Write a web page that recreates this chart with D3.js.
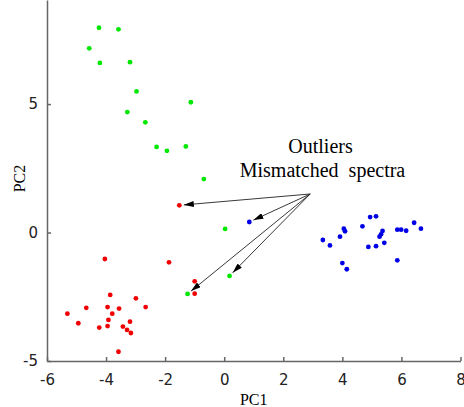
<!DOCTYPE html>
<html>
<head>
<meta charset="utf-8">
<script src="https://cdn.jsdelivr.net/npm/d3@7"></script>
<style>
  body { margin: 0; background: #fff; }
  svg { display: block; }
  .tick text { font-family: "DejaVu Sans", sans-serif; font-size: 15px; fill: #222; }
  .axis path, .axis line { stroke: #666; stroke-width: 1.5; }
</style>
</head>
<body>
<div id="chart"></div>
<script>
// PC scores
var greenPts = [
  [-4.24, 7.97], [-3.58, 7.91], [-4.57, 7.17], [-4.21, 6.60], [-3.19, 6.63],
  [-2.97, 5.49], [-1.13, 5.07], [-3.28, 4.69], [-2.67, 4.29], [-2.29, 3.33],
  [-1.94, 3.18], [-1.30, 3.35], [-0.69, 2.08], [0.03, 0.14], [0.18, -1.69],
  [-1.24, -2.39]
];
var redPts = [
  [-1.52, 1.06], [-4.04, -1.03], [-1.87, -1.16], [-1.00, -1.90], [-1.00, -2.38],
  [-3.86, -2.43], [-2.99, -2.56], [-4.67, -2.93], [-3.95, -2.90], [-3.56, -2.96],
  [-2.66, -2.90], [-5.31, -3.16], [-3.79, -3.16], [-4.94, -3.53], [-3.92, -3.40],
  [-3.19, -3.47], [-4.23, -3.70], [-3.95, -3.64], [-3.43, -3.66], [-3.29, -3.79],
  [-3.16, -3.91], [-3.58, -4.64]
];
var bluePts = [
  [0.85, 0.41], [3.34, -0.29], [3.58, -0.50], [3.92, -0.16], [4.05, 0.15],
  [4.09, 0.05], [4.00, -1.19], [4.15, -1.43], [4.68, 0.24], [4.94, 0.60],
  [5.14, 0.63], [4.88, -0.56], [5.14, -0.53], [5.26, -0.16], [5.31, -0.07],
  [5.36, 0.06], [5.42, -0.40], [5.86, 0.11], [5.99, 0.11], [6.16, 0.07],
  [6.43, 0.38], [6.66, 0.15], [5.86, -1.08]
];
var xTicks = [-6, -4, -2, 0, 2, 4, 6, 8];
var yTicks = [-5, 0, 5];
// annotation: arrow origin and the mismatched samples it points at
var arrowFrom = [2.91, 1.50];
var arrowTargets = [[-1.52, 1.06], [0.85, 0.41], [0.18, -1.69], [-1.24, -2.39]];
var noteLines = ['Outliers', 'Mismatched\u00a0\u00a0spectra'];

var width = 464, height = 407,
  margin = { top: 0, right: 3.5, bottom: 46, left: 47 };

var svg = d3.select('#chart').append('svg')
  .attr('width', width)
  .attr('height', height);

var x = d3.scaleLinear().domain([-6, 8]).range([margin.left, width - margin.right]);
var y = d3.scaleLinear().domain([-5, 9.05]).range([height - margin.bottom, margin.top]);

var fmt = function(d) { return String(d); };

svg.append('g')
  .attr('class', 'axis')
  .attr('transform', 'translate(0,' + y(-5) + ')')
  .call(d3.axisBottom(x).tickValues(xTicks).tickFormat(fmt)
    .tickSizeInner(-4).tickSizeOuter(0).tickPadding(13));

svg.append('g')
  .attr('class', 'axis')
  .attr('transform', 'translate(' + x(-6) + ',0)')
  .call(d3.axisLeft(y).tickValues(yTicks).tickFormat(fmt)
    .tickSizeInner(-4).tickSizeOuter(0).tickPadding(9));

svg.selectAll('.axis .domain').attr('stroke-width', 1.5);

// axis titles
svg.append('text')
  .attr('x', (x(-6) + x(8)) / 2)
  .attr('y', 405)
  .attr('text-anchor', 'middle')
  .style('font-family', '"Liberation Serif", serif')
  .style('font-size', '16px')
  .text('PC1');

svg.append('text')
  .attr('transform', 'translate(25,' + ((y(-5) + 0) / 2 - 2) + ') rotate(-90)')
  .attr('text-anchor', 'middle')
  .style('font-family', '"Liberation Serif", serif')
  .style('font-size', '16px')
  .text('PC2');

// points
function drawPoints(pts, color) {
  svg.append('g').selectAll('circle')
    .data(pts)
    .enter().append('circle')
    .attr('cx', function(d) { return x(d[0]); })
    .attr('cy', function(d) { return y(d[1]); })
    .attr('r', 2.4)
    .attr('fill', color);
}
drawPoints(greenPts, '#00e800');
drawPoints(redPts, '#f00000');
drawPoints(bluePts, '#0000e6');

// arrows
svg.append('defs').append('marker')
  .attr('id', 'head')
  .attr('viewBox', '0 0 10 6')
  .attr('refX', 10).attr('refY', 3)
  .attr('markerWidth', 10).attr('markerHeight', 6)
  .attr('markerUnits', 'userSpaceOnUse')
  .attr('orient', 'auto')
  .append('path')
  .attr('d', 'M0,0L10,3L0,6Z')
  .attr('fill', '#000');

var x0 = x(arrowFrom[0]), y0 = y(arrowFrom[1]);
svg.append('g').selectAll('line')
  .data(arrowTargets)
  .enter().append('line')
  .attr('x1', x0).attr('y1', y0)
  .attr('x2', function(d) {
    var dx = x(d[0]) - x0, dy = y(d[1]) - y0, len = Math.sqrt(dx * dx + dy * dy);
    return x(d[0]) - dx / len * 4.5;
  })
  .attr('y2', function(d) {
    var dx = x(d[0]) - x0, dy = y(d[1]) - y0, len = Math.sqrt(dx * dx + dy * dy);
    return y(d[1]) - dy / len * 4.5;
  })
  .attr('stroke', '#222')
  .attr('stroke-width', 0.9)
  .attr('marker-end', 'url(#head)');

svg.append('text')
  .attr('text-anchor', 'middle')
  .style('font-family', '"Liberation Serif", serif')
  .style('font-size', '20px')
  .selectAll('tspan')
  .data(noteLines)
  .enter().append('tspan')
  .attr('x', function(d, i) { return i ? 322.5 : 320.5; })
  .attr('y', function(d, i) { return 153 + i * 24; })
  .text(function(d) { return d; });
</script>
</body>
</html>
